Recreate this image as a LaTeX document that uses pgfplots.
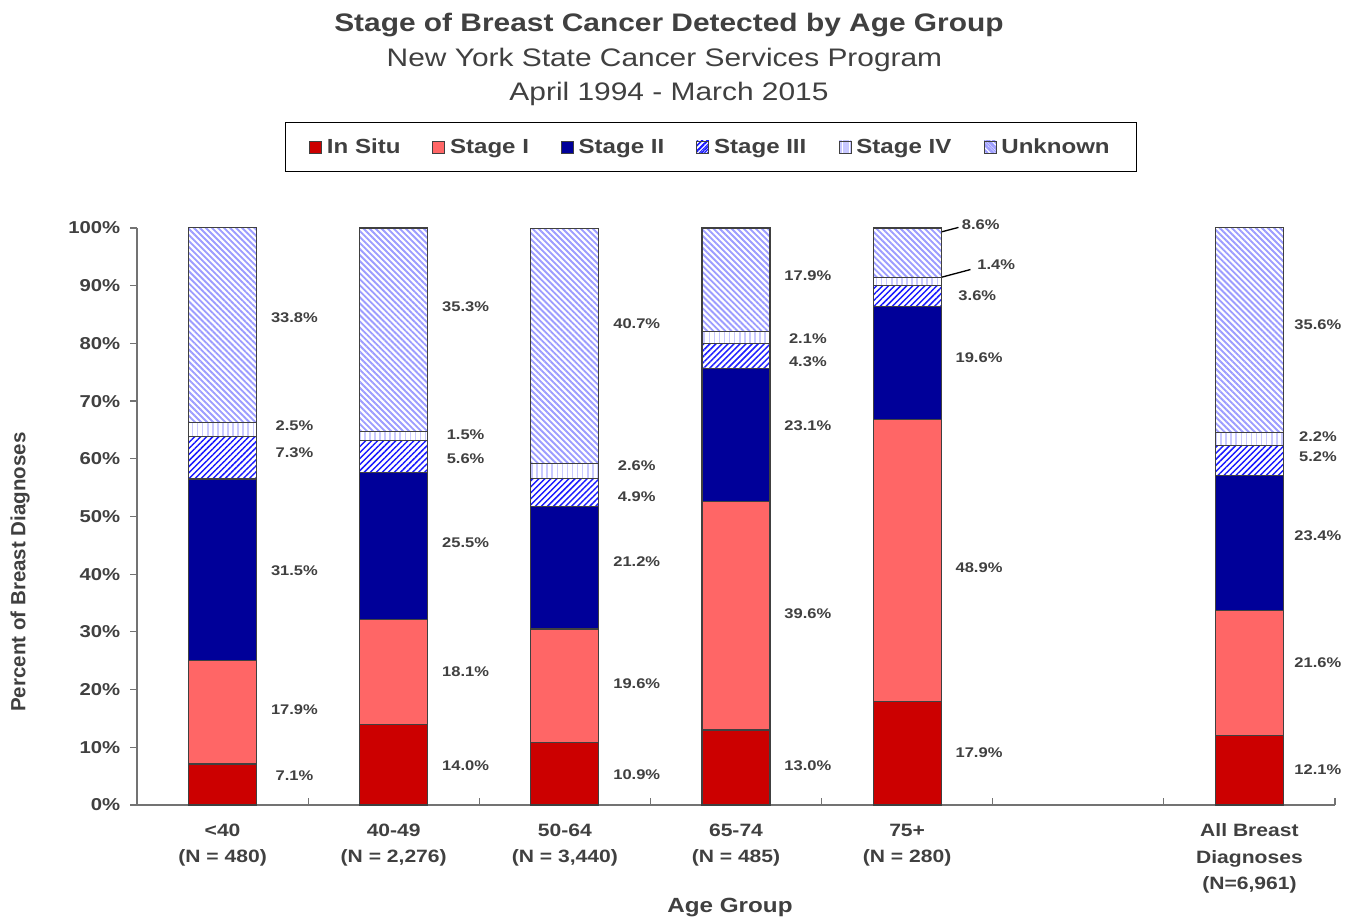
\documentclass[border=0pt]{standalone}
\usepackage{pgfplots}
\pgfplotsset{compat=1.18}
\usepackage{pgfplotstable}
\usetikzlibrary{patterns.meta}
\usepackage{fontspec}
\setmainfont{Liberation Sans}[FakeStretch=1.18]
\newfontfamily\ylabfont{Liberation Sans}
\definecolor{txt}{HTML}{404040}
\definecolor{insitu}{HTML}{CC0000}
\definecolor{stone}{HTML}{FF6666}
\definecolor{sttwo}{HTML}{000099}
\definecolor{stthree}{HTML}{1A1AFF}
\definecolor{stfour}{HTML}{C8C8FF}
\definecolor{unk}{HTML}{9C9CFF}

\pgfplotstableread{
x insitu st1 st2 st3 st4 unk
0 7.1 17.9 31.5 7.3 2.5 33.8
1 14.0 18.1 25.5 5.6 1.5 35.3
2 10.9 19.6 21.2 4.9 2.6 40.7
3 13.0 39.6 23.1 4.3 2.1 17.9
4 17.9 48.9 19.6 3.6 1.4 8.6
6 12.1 21.6 23.4 5.2 2.2 35.6
}\data

\begin{document}
\begin{tikzpicture}
\useasboundingbox (-102.75pt,-87pt) rectangle (920.25pt,603.75pt);
\begin{axis}[
  at={(0,0)}, anchor=south west,
  scale only axis,
  width=898.5pt, height=432.75pt,
  ybar stacked, bar width=51pt,
  xmin=-0.5, xmax=6.5, ymin=0, ymax=100,
  clip=false,
  axis lines=left,
  axis line style={draw=black!55, line width=0.9pt, -},
  xtick={0,1,2,3,4,6},
  xticklabels={{<40\\(N = 480)},{40-49\\(N = 2,276)},{50-64\\(N = 3,440)},{65-74\\(N = 485)},{75+\\(N = 280)},{All Breast\\Diagnoses\\(N=6,961)}},
  major x tick style={draw=none},
  minor xtick={-0.5,0.5,1.5,2.5,3.5,4.5,5.5,6.5},
  minor tick length=5pt,
  minor x tick style={draw=black!55, line width=0.9pt},
  xtick align=inside,
  xticklabel style={align=center, font=\fontsize{13.4}{20}\selectfont\bfseries, text=txt, yshift=-10.5pt},
  ytick={0,10,...,100},
  yticklabels={0\%,10\%,20\%,30\%,40\%,50\%,60\%,70\%,80\%,90\%,100\%},
  ytick align=outside, major tick length=5pt,
  y tick style={draw=black!55, line width=0.9pt},
  yticklabel style={font=\fontsize{12.9}{15}\selectfont\bfseries, text=txt, xshift=-4pt},
  legend columns=6,
  legend style={at={(0.479,1.1404)}, anchor=center, draw=black, line width=0.8pt, fill=white,
    font=\fontsize{15.3}{18}\selectfont\bfseries, text=txt,
    inner xsep=18pt, inner ysep=10pt,
    nodes={inner xsep=2pt},
    /tikz/every odd column/.append style={column sep=1.5pt},
    /tikz/every even column/.append style={column sep=22pt}},
  every axis plot/.append style={draw=black!75, line width=0.8pt},
]
\addplot+[fill=insitu, draw=black!75, legend image code/.code={\draw[fill=insitu, draw=black!75, line width=0.7pt] (0pt,-4.5pt) rectangle (9pt,4.5pt);}] table[x=x,y=insitu]{\data};
\addplot+[fill=stone, draw=black!75, legend image code/.code={\draw[fill=stone, draw=black!75, line width=0.7pt] (0pt,-4.5pt) rectangle (9pt,4.5pt);}] table[x=x,y=st1]{\data};
\addplot+[fill=sttwo, draw=black!75, legend image code/.code={\draw[fill=sttwo, draw=black!75, line width=0.7pt] (0pt,-4.5pt) rectangle (9pt,4.5pt);}] table[x=x,y=st2]{\data};
\addplot+[fill=white, draw=black!75, postaction={pattern={Lines[angle=45,distance=3.2pt,line width=1.1pt]}, pattern color=stthree}, legend image code/.code={\draw[fill=white, draw=black!75, line width=0.7pt, postaction={pattern={Lines[angle=45,distance=2.6pt,line width=0.9pt]}, pattern color=stthree}] (0pt,-4.5pt) rectangle (9pt,4.5pt);}] table[x=x,y=st3]{\data};
\addplot+[fill=white, draw=black!75, postaction={pattern={Lines[angle=90,distance=3.8pt,line width=1.2pt]}, pattern color=stfour}, legend image code/.code={\draw[fill=white, draw=black!75, line width=0.7pt, postaction={pattern={Lines[angle=90,distance=3pt,line width=1pt]}, pattern color=stfour}] (0pt,-4.5pt) rectangle (9pt,4.5pt);}] table[x=x,y=st4]{\data};
\addplot+[fill=white, draw=black!75, postaction={pattern={Lines[angle=-45,distance=3.2pt,line width=1.4pt]}, pattern color=unk}, legend image code/.code={\draw[fill=white, draw=black!75, line width=0.7pt, postaction={pattern={Lines[angle=-45,distance=2.6pt,line width=1pt]}, pattern color=unk}] (0pt,-4.5pt) rectangle (9pt,4.5pt);}] table[x=x,y=unk]{\data};
\legend{In Situ,Stage I,Stage II,Stage III,Stage IV,Unknown}

\tikzset{vl/.style={font=\fontsize{10.5}{12}\selectfont\bfseries, text=txt, anchor=center, inner sep=0pt}}
% <40
\node[vl] at (axis cs:0.42,5.0) {7.1\%};
\node[vl] at (axis cs:0.42,16.5) {17.9\%};
\node[vl] at (axis cs:0.42,40.6) {31.5\%};
\node[vl] at (axis cs:0.42,61.0) {7.3\%};
\node[vl] at (axis cs:0.42,65.7) {2.5\%};
\node[vl] at (axis cs:0.42,84.4) {33.8\%};
% 40-49
\node[vl] at (axis cs:1.42,6.9) {14.0\%};
\node[vl] at (axis cs:1.42,23.1) {18.1\%};
\node[vl] at (axis cs:1.42,45.4) {25.5\%};
\node[vl] at (axis cs:1.42,60.0) {5.6\%};
\node[vl] at (axis cs:1.42,64.1) {1.5\%};
\node[vl] at (axis cs:1.42,86.3) {35.3\%};
% 50-64
\node[vl] at (axis cs:2.42,5.2) {10.9\%};
\node[vl] at (axis cs:2.42,21.0) {19.6\%};
\node[vl] at (axis cs:2.42,42.1) {21.2\%};
\node[vl] at (axis cs:2.42,53.4) {4.9\%};
\node[vl] at (axis cs:2.42,58.8) {2.6\%};
\node[vl] at (axis cs:2.42,83.5) {40.7\%};
% 65-74
\node[vl] at (axis cs:3.42,6.8) {13.0\%};
\node[vl] at (axis cs:3.42,33.1) {39.6\%};
\node[vl] at (axis cs:3.42,65.7) {23.1\%};
\node[vl] at (axis cs:3.42,76.8) {4.3\%};
\node[vl] at (axis cs:3.42,80.9) {2.1\%};
\node[vl] at (axis cs:3.42,91.7) {17.9\%};
% 75+
\node[vl] at (axis cs:4.42,9.0) {17.9\%};
\node[vl] at (axis cs:4.42,41.1) {48.9\%};
\node[vl] at (axis cs:4.42,77.5) {19.6\%};
\node[vl] at (axis cs:4.41,88.2) {3.6\%};
\node[vl] at (axis cs:4.52,93.6) {1.4\%};
\node[vl] at (axis cs:4.43,100.5) {8.6\%};
\draw[black, line width=1pt] (axis cs:4.12,98.7) -- (axis cs:4.30,100.1);
\draw[black, line width=1pt] (axis cs:4.18,91.3) -- (axis cs:4.37,92.8);
% All
\node[vl] at (axis cs:6.40,6.2) {12.1\%};
\node[vl] at (axis cs:6.40,24.6) {21.6\%};
\node[vl] at (axis cs:6.40,46.6) {23.4\%};
\node[vl] at (axis cs:6.40,60.3) {5.2\%};
\node[vl] at (axis cs:6.40,63.8) {2.2\%};
\node[vl] at (axis cs:6.40,83.2) {35.6\%};
\end{axis}
\node[anchor=base, text=txt, font=\fontsize{19}{22}\selectfont\bfseries] at (399pt,579.75pt) {Stage of Breast Cancer Detected by Age Group};
\node[anchor=base, text=txt, font=\fontsize{19}{22}\selectfont] at (395.6pt,553.5pt) {New York State Cancer Services Program};
\node[anchor=base, text=txt, font=\fontsize{19}{22}\selectfont] at (399pt,528pt) {April 1994 - March 2015};
\node[anchor=base, text=txt, font=\fontsize{15.4}{18}\selectfont\bfseries] at (444.75pt,-81pt) {Age Group};
\node[rotate=90, anchor=center, text=txt, font=\ylabfont\fontsize{15.4}{18}\selectfont\bfseries] at (-87.75pt,174.75pt) {Percent of Breast Diagnoses};
\end{tikzpicture}
\end{document}
